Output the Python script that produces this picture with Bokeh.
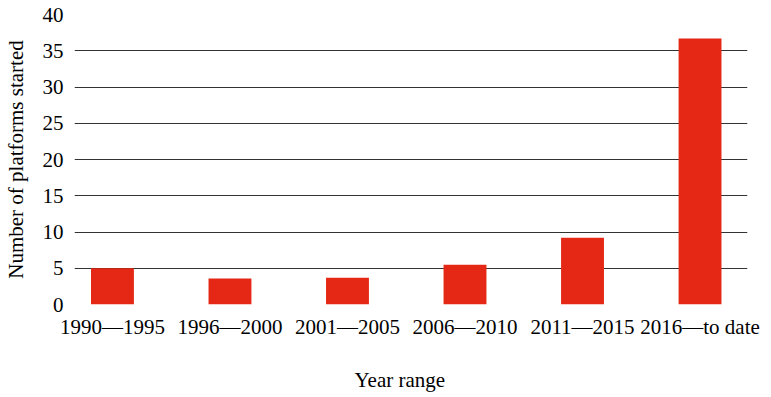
from bokeh.plotting import figure
from bokeh.models import FixedTicker, Title
from bokeh.embed import file_html
from bokeh.resources import INLINE

categories = ["1990\u20141995", "1996\u20142000", "2001\u20142005",
              "2006\u20142010", "2011\u20142015", "2016\u2014to date"]
values = [5.0, 3.6, 3.7, 5.5, 9.2, 36.7]
y_ticks = [0, 5, 10, 15, 20, 25, 30, 35, 40]

FONT = "Liberation Serif"
xs = list(range(len(categories)))

p = figure(width=771, height=397, output_backend="svg", toolbar_location=None,
           x_range=(-0.323, 5.404), y_range=(0, 40),
           min_border_left=73, min_border_right=24, min_border_top=14, min_border_bottom=93)
p.outline_line_color = None
p.background_fill_color = "white"
p.border_fill_color = "white"

p.vbar(x=xs, top=values, width=0.365, bottom=0, color="#e52815", line_color=None)

p.xgrid.grid_line_color = None
p.ygrid.grid_line_color = "#333333"
p.ygrid.grid_line_width = 1
p.ygrid.ticker = FixedTicker(ticks=y_ticks)

p.yaxis.ticker = FixedTicker(ticks=y_ticks)
p.xaxis.ticker = FixedTicker(ticks=xs)
p.xaxis.major_label_overrides = {i: c for i, c in enumerate(categories)}

for ax in (p.xaxis[0], p.yaxis[0]):
    ax.axis_line_color = None
    ax.major_tick_line_color = None
    ax.minor_tick_line_color = None
    ax.major_tick_out = 0
    ax.major_tick_in = 0
    ax.minor_tick_out = 0
    ax.major_label_text_font = FONT
    ax.major_label_text_font_size = "21px"
    ax.major_label_text_color = "black"
    ax.axis_label_text_font = FONT
    ax.axis_label_text_font_size = "21px"
    ax.axis_label_text_font_style = "normal"
    ax.axis_label_text_color = "black"

p.yaxis.major_label_standoff = 11
p.xaxis.major_label_standoff = 10
p.yaxis.axis_label = "Number of platforms started"
p.yaxis.axis_label_standoff = 12

# invisible, tiny x-axis label used only as vertical spacing below the tick labels
p.xaxis.axis_label = "\u00a0"
p.xaxis.axis_label_text_font_size = "1px"
p.xaxis.axis_label_text_color = "white"
p.xaxis.axis_label_standoff = 14

xtitle = Title(text="Year range", align="left", offset=280, standoff=12,
               vertical_align="bottom",
               text_font=FONT, text_font_size="21px", text_font_style="normal",
               text_color="black")
p.add_layout(xtitle, "below")

open("out.html", "w").write(file_html(p, INLINE))
